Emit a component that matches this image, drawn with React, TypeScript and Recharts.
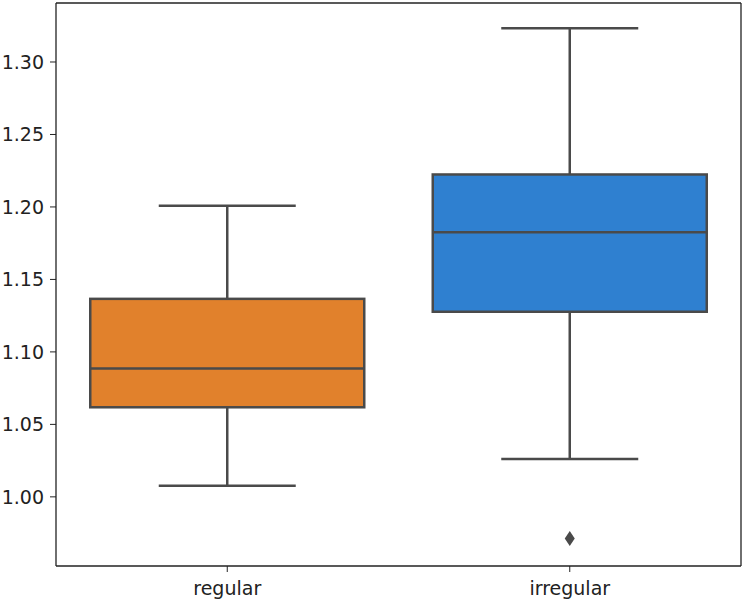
import React from "react";
import { ComposedChart, Bar, Scatter, XAxis, YAxis } from "recharts";

const categories = ["regular", "irregular"];
const whiskerLow = [1.0076, 1.0261];
const q1 = [1.0618, 1.1277];
const median = [1.0886, 1.1826];
const q3 = [1.1366, 1.2224];
const whiskerHigh = [1.2009, 1.3233];
const outliers: (number | null)[] = [null, 0.9712];
const boxColors = ["#e1812c", "#2f80d0"];
const yTicks = [1.0, 1.05, 1.1, 1.15, 1.2, 1.25, 1.3];
const yDomain = [0.9523, 1.3407];

const data = categories.map((name, i) => ({
    name,
    range: [whiskerLow[i], whiskerHigh[i]],
    q1: q1[i],
    median: median[i],
    q3: q3[i],
    lo: whiskerLow[i],
    hi: whiskerHigh[i],
    outlier: outliers[i],
    color: boxColors[i],
}));

const LINE = "#4a4a4a";
const TEXT = "#222";
const FONT = { fill: TEXT, fontSize: 19, fontFamily: "DejaVu Sans" };

// the bar spans the whisker range; everything else is placed inside it on the same linear scale
function BoxShape(props: any) {
    const { x, y, width, height, payload } = props;
    const { lo, hi } = payload;
    const py = (v: number) => y + (height * (hi - v)) / (hi - lo);
    const cx = x + width / 2;
    const capHalf = width / 4;
    const top = py(payload.q3);
    const bottom = py(payload.q1);
    const med = py(payload.median);
    return (
        <g>
            <line x1={cx} x2={cx} y1={py(hi)} y2={top} stroke={LINE} strokeWidth={2.5} />
            <line x1={cx} x2={cx} y1={bottom} y2={py(lo)} stroke={LINE} strokeWidth={2.5} />
            <line x1={cx - capHalf} x2={cx + capHalf} y1={py(hi)} y2={py(hi)} stroke={LINE} strokeWidth={2.5} />
            <line x1={cx - capHalf} x2={cx + capHalf} y1={py(lo)} y2={py(lo)} stroke={LINE} strokeWidth={2.5} />
            <rect x={x} y={top} width={width} height={bottom - top} fill={payload.color} stroke={LINE} strokeWidth={2.5} />
            <line x1={x} x2={x + width} y1={med} y2={med} stroke={LINE} strokeWidth={2.5} />
        </g>
    );
}

function Diamond(props: any) {
    const { cx, cy, payload } = props;
    if (payload == null || payload.outlier == null || !isFinite(cy)) return null;
    return <polygon points={`${cx},${cy - 7.5} ${cx + 5},${cy} ${cx},${cy + 7.5} ${cx - 5},${cy}`} fill={LINE} />;
}

export default function App() {
    return (
        <div style={{ position: "absolute", left: 0, top: 0, background: "#fff" }}>
            <ComposedChart
                width={747}
                height={605}
                data={data}
                margin={{ top: 2, right: 5, bottom: 0, left: 0 }}
                barCategoryGap="10%"
            >
                <XAxis
                    dataKey="name"
                    height={39}
                    tickSize={6}
                    tickMargin={10}
                    stroke={TEXT}
                    tick={FONT}
                    axisLine={{ stroke: TEXT, strokeWidth: 1.3 }}
                />
                {/* top and right spines */}
                <XAxis
                    xAxisId="top"
                    dataKey="name"
                    orientation="top"
                    height={1}
                    tick={false}
                    tickLine={false}
                    axisLine={{ stroke: TEXT, strokeWidth: 1.3 }}
                />
                <YAxis
                    type="number"
                    domain={yDomain}
                    ticks={yTicks}
                    allowDataOverflow
                    width={56}
                    tickSize={6}
                    tickMargin={6}
                    stroke={TEXT}
                    tickFormatter={(v: number) => v.toFixed(2)}
                    tick={FONT}
                    axisLine={{ stroke: TEXT, strokeWidth: 1.3 }}
                />
                <YAxis
                    yAxisId="right"
                    type="number"
                    domain={yDomain}
                    allowDataOverflow
                    orientation="right"
                    width={1}
                    tick={false}
                    tickLine={false}
                    axisLine={{ stroke: TEXT, strokeWidth: 1.3 }}
                />
                <Bar dataKey="range" shape={BoxShape} isAnimationActive={false} />
                <Scatter
                    dataKey="outlier"
                    xAxisId="top"
                    yAxisId="right"
                    shape={Diamond}
                    isAnimationActive={false}
                />
            </ComposedChart>
        </div>
    );
}
